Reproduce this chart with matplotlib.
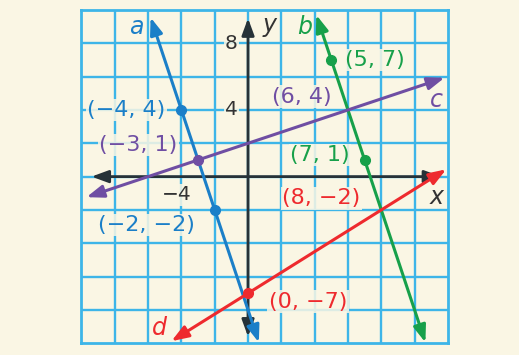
import matplotlib
matplotlib.use("Agg")
import matplotlib.pyplot as plt
import numpy as np

plt.rcParams['font.family'] = ['DejaVu Sans']

# ---- data ----
line_names = ['a', 'b', 'c', 'd']
line_colors = ['#1b7fc8', '#17a04a', '#6f4ea3', '#ee2a2e']
# each line: two defining points
line_p1 = [(-4, 4), (5, 7), (-3, 1), (0, -7)]
line_p2 = [(-2, -2), (7, 1), (6, 4), (8, -2)]
# x-extent of each drawn line
line_xmin = [-5.85, 4.1, -9.7, -4.6]
line_xmax = [0.65, 10.65, 11.8, 11.9]
# name label positions
name_pos = [(-6.7, 9.0), (3.4, 9.0), (11.3, 4.6), (-5.3, -9.1)]

point_xy = [(-4, 4), (-2, -2), (5, 7), (7, 1), (-3, 1), (6, 4), (0, -7), (8, -2)]
point_line = [0, 0, 1, 1, 2, 2, 3, 3]
point_text = ['(−4, 4)', '(−2, −2)', '(5, 7)', '(7, 1)', '(−3, 1)', '(6, 4)', '(0, −7)', '(8, −2)']
point_label_pos = [(-7.3, 4.0), (-6.1, -2.9), (7.6, 7.0), (4.3, 1.3),
                   (-6.6, 1.9), (3.2, 4.8), (3.6, -7.5), (4.4, -1.3)]
point_marked = [True, True, True, True, True, False, True, False]

xtick_vals = [-4]
ytick_vals = [8, 4]

bg = '#faf6e4'
grid_c = '#3db5e8'

fig = plt.figure(figsize=(5.19, 3.55), dpi=100, facecolor=bg)
ax = fig.add_axes([0.157, 0.033, 0.706, 0.939])
ax.set_facecolor(bg)
ax.set_xlim(-10, 12)
ax.set_ylim(-10, 10)
for s in ax.spines.values():
    s.set_color(grid_c)
    s.set_linewidth(2.0)
ax.set_xticks([])
ax.set_yticks([])

for gx in np.arange(-8, 12, 2):
    ax.axvline(gx, color=grid_c, lw=1.7, zorder=1)
for gy in np.arange(-8, 10, 2):
    ax.axhline(gy, color=grid_c, lw=1.7, zorder=1)

axis_c = '#263238'
arrow_style = '<|-|>,head_length=0.6,head_width=0.22'
# axes with arrows
ax.annotate('', xy=(11.6, 0), xytext=(-9.4, 0),
            arrowprops=dict(arrowstyle=arrow_style, color=axis_c, lw=2.0,
                            mutation_scale=17, shrinkA=0, shrinkB=0), zorder=3)
ax.annotate('', xy=(0, 9.5), xytext=(0, -9.6),
            arrowprops=dict(arrowstyle=arrow_style, color=axis_c, lw=2.0,
                            mutation_scale=17, shrinkA=0, shrinkB=0), zorder=3)

# lines
for i, name in enumerate(line_names):
    (x1, y1), (x2, y2) = line_p1[i], line_p2[i]
    m = (y2 - y1) / (x2 - x1)
    f = lambda x: y1 + m * (x - x1)
    xa, xb = line_xmin[i], line_xmax[i]
    ax.annotate('', xy=(xb, f(xb)), xytext=(xa, f(xa)),
                arrowprops=dict(arrowstyle=arrow_style, color=line_colors[i], lw=2.2,
                                mutation_scale=17, shrinkA=0, shrinkB=0), zorder=4)
    ax.text(name_pos[i][0], name_pos[i][1], name, color=line_colors[i],
            fontsize=17, style='italic', ha='center', va='center', zorder=6)

lab_box = dict(boxstyle='square,pad=0.06', facecolor=bg, edgecolor='none', alpha=0.85)
for k, (px, py) in enumerate(point_xy):
    c = line_colors[point_line[k]]
    if point_marked[k]:
        ax.plot(px, py, 'o', color=c, ms=7, zorder=5)
    lx, ly = point_label_pos[k]
    ax.text(lx, ly, point_text[k], color=c, fontsize=16, ha='center', va='center',
            bbox=lab_box, zorder=6)

# tick labels
for v in xtick_vals:
    ax.text(v - 0.3, -1.1, '−4', color='#333333', fontsize=14.5, ha='center', va='center',
            bbox=lab_box, zorder=6)
for v in ytick_vals:
    ax.text(-1.0, v, str(v), color='#333333', fontsize=14.5, ha='center', va='center',
            bbox=lab_box, zorder=6)

ax.text(11.3, -1.2, 'x', color='#333333', fontsize=17, style='italic', ha='center', va='center', zorder=6)
ax.text(1.3, 9.1, 'y', color='#333333', fontsize=17, style='italic', ha='center', va='center', zorder=6)

fig.savefig('out.png', dpi=100, facecolor=bg)
